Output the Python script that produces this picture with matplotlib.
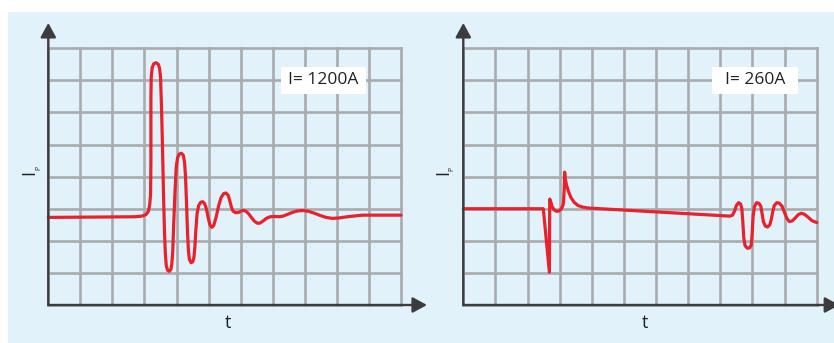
import matplotlib
matplotlib.use("Agg")
import matplotlib.pyplot as plt
from matplotlib.patches import Rectangle

plt.rcParams['font.family'] = ['Open Sans', 'DejaVu Sans']

# ---------------- data ----------------
grid_cols = list(range(12))   # time divisions 0..11
grid_rows = list(range(9))    # current divisions 0..8

left_t = [0.00, 2.70, 2.92, 3.05, 3.12, 3.16, 3.19, 3.20, 3.20, 3.21, 3.24, 3.29, 3.36, 3.43,
          3.47, 3.50, 3.53, 3.56, 3.59, 3.62, 3.65, 3.68, 3.72, 3.77, 3.82, 3.85, 3.88, 3.91,
          3.95, 3.99, 4.03, 4.08, 4.15, 4.21, 4.25, 4.28, 4.31, 4.34, 4.37, 4.40, 4.45, 4.50,
          4.54, 4.57, 4.60, 4.64, 4.69, 4.75, 4.81, 4.87, 4.93, 4.99, 5.04, 5.10, 5.16, 5.23,
          5.31, 5.39, 5.47, 5.54, 5.61, 5.66, 5.71, 5.76, 5.83, 5.92, 6.02, 6.09, 6.17, 6.25,
          6.34, 6.43, 6.52, 6.60, 6.70, 6.80, 6.92, 7.05, 7.20, 7.32, 7.45, 7.60, 7.76, 7.95,
          8.12, 8.30, 8.48, 8.66, 8.85, 9.05, 9.25, 9.50, 9.80, 10.30, 11.00]
left_ip = [2.73, 2.75, 2.77, 2.82, 2.92, 3.10, 3.45, 4.50, 6.40, 7.10, 7.40, 7.52, 7.55, 7.50,
           7.38, 7.10, 6.20, 5.00, 3.60, 2.40, 1.60, 1.22, 1.08, 1.05, 1.10, 1.25, 1.65, 2.50,
           3.50, 4.30, 4.58, 4.70, 4.73, 4.67, 4.45, 4.00, 3.20, 2.30, 1.70, 1.42, 1.32, 1.34,
           1.47, 1.78, 2.30, 2.85, 3.10, 3.20, 3.22, 3.17, 3.00, 2.70, 2.50, 2.42, 2.48, 2.72,
           3.08, 3.35, 3.47, 3.49, 3.42, 3.25, 3.05, 2.93, 2.88, 2.88, 2.93, 2.95, 2.92, 2.84,
           2.72, 2.61, 2.55, 2.55, 2.62, 2.70, 2.75, 2.76, 2.75, 2.77, 2.82, 2.88, 2.93, 2.945,
           2.92, 2.86, 2.79, 2.73, 2.70, 2.71, 2.74, 2.77, 2.80, 2.80, 2.80]

right_t = [0.00, 2.49, 2.68, 2.69, 2.72, 2.76, 2.82, 2.90, 2.98, 3.05, 3.10, 3.12, 3.14, 3.155,
           3.17, 3.21, 3.27, 3.35, 3.45, 3.57, 3.72, 3.90, 4.10, 8.30, 8.38, 8.44, 8.50, 8.57,
           8.63, 8.67, 8.70, 8.73, 8.77, 8.84, 8.91, 8.96, 8.99, 9.02, 9.06, 9.13, 9.20, 9.26,
           9.30, 9.34, 9.40, 9.47, 9.54, 9.59, 9.63, 9.68, 9.76, 9.84, 9.92, 10.00, 10.07,
           10.15, 10.24, 10.33, 10.43, 10.53, 10.63, 10.74, 10.85, 11.00]
right_ip = [3.00, 3.00, 1.02, 3.30, 3.22, 3.08, 2.97, 2.92, 2.93, 3.00, 3.10, 3.20, 3.60, 4.14,
            3.95, 3.75, 3.55, 3.35, 3.20, 3.10, 3.05, 3.02, 3.01, 2.77, 2.80, 2.92, 3.10, 3.19,
            3.15, 3.00, 2.60, 2.10, 1.85, 1.77, 1.78, 1.86, 2.20, 2.75, 3.06, 3.19, 3.17, 3.08,
            2.85, 2.60, 2.46, 2.43, 2.50, 2.68, 2.90, 3.10, 3.19, 3.17, 3.08, 2.88, 2.70,
            2.60, 2.62, 2.71, 2.82, 2.86, 2.82, 2.73, 2.63, 2.57]

left_label = 'I= 1200A'
right_label = 'I= 260A'
x_label = 't'
y_label_main = 'I'
y_label_sub = 'P'

# ---------------- style ----------------
BG = '#E1F2FA'
GRID = '#A9ABAE'
AXIS = '#3C3C3C'
RED = '#E8212B'

W, H = 834, 343
fig = plt.figure(figsize=(W / 100, H / 100), dpi=100)
fig.patch.set_facecolor('white')
fig.add_artist(Rectangle((8 / W, 0), 1 - 8 / W, (H - 12) / H, transform=fig.transFigure,
                         facecolor=BG, edgecolor='none', zorder=0))


def px_axes(x0, x1, y_top, y_bot):
    return fig.add_axes([x0 / W, (H - y_bot) / H, (x1 - x0) / W, (y_bot - y_top) / H])


panels = [
    dict(ax=px_axes(48.3, 401, 48.3, 305), t=left_t, ip=left_ip, label=left_label,
         box=(8.58, 7.0, 2.65, 0.84), xtip=11.81, tlab=5.60, ylab=(-0.59, 4.13), sub=(-0.28, 4.26)),
    dict(ax=px_axes(463.3, 816.7, 48.3, 305), t=right_t, ip=right_ip, label=right_label,
         box=(9.08, 7.0, 2.68, 0.84), xtip=11.70, tlab=5.65, ylab=(-0.63, 4.13), sub=(-0.37, 4.25)),
]

for p in panels:
    ax = p['ax']
    ax.set_xlim(grid_cols[0], grid_cols[-1])
    ax.set_ylim(grid_rows[0], grid_rows[-1])
    ax.set_facecolor('none')
    for s in ax.spines.values():
        s.set_visible(False)
    ax.set_xticks([])
    ax.set_yticks([])

    for v in grid_cols:
        ax.axvline(v, color=GRID, lw=1.9, zorder=1, clip_on=False)
    for h in grid_rows:
        ax.axhline(h, color=GRID, lw=1.9, zorder=1, clip_on=False)

    ax.plot(p['t'], p['ip'], color=RED, lw=2.3, zorder=3, clip_on=False,
            solid_joinstyle='round', solid_capstyle='round')

    # axes arrows
    arrow = dict(arrowstyle='-|>,head_length=8.6,head_width=4.7', mutation_scale=1,
                 color=AXIS, lw=1.7, shrinkA=0, shrinkB=0)
    ax.annotate('', xy=(0, 8.79), xytext=(0, 0), arrowprops=arrow,
                annotation_clip=False, zorder=6)
    ax.annotate('', xy=(p['xtip'], 0), xytext=(0, 0), arrowprops=arrow,
                annotation_clip=False, zorder=6)

    # label box
    cx, cy, bw, bh = p['box']
    ax.add_patch(Rectangle((cx - bw / 2, cy - bh / 2), bw, bh, facecolor='white',
                           edgecolor='none', zorder=4, clip_on=False))
    ax.text(cx, cy, p['label'], ha='center', va='center', fontsize=12.5,
            color='#222222', zorder=5)

    ax.text(p['tlab'], -0.56, x_label, ha='center', va='center', fontsize=13,
            color='#222222', clip_on=False)
    ax.text(p['ylab'][0], p['ylab'][1], y_label_main, ha='center', va='center',
            rotation=90, fontsize=13, color='#222222', clip_on=False)
    ax.text(p['sub'][0], p['sub'][1], y_label_sub, ha='center', va='center',
            rotation=90, fontsize=5, color='#222222', clip_on=False)

fig.savefig('out.png', dpi=100, facecolor='white')
